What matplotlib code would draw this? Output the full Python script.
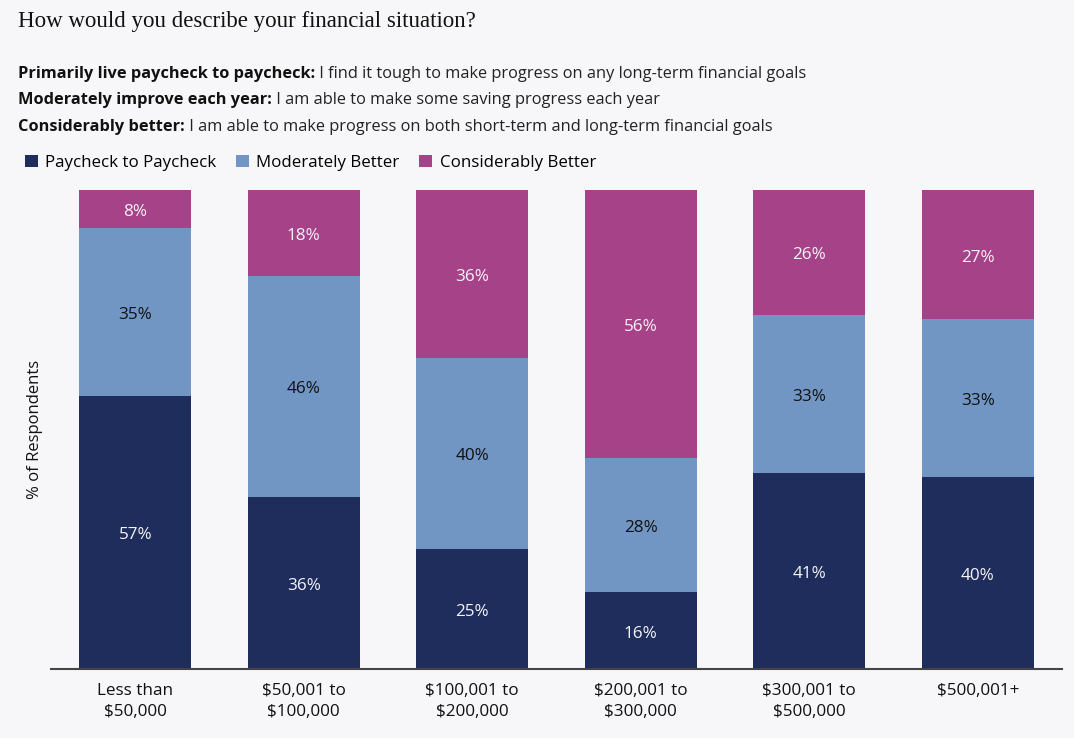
import numpy as np
import matplotlib.pyplot as plt
from matplotlib.patches import Patch

categories = ["Less than\n$50,000", "$50,001 to\n$100,000", "$100,001 to\n$200,000",
              "$200,001 to\n$300,000", "$300,001 to\n$500,000", "$500,001+"]
paycheck = [57, 36, 25, 16, 41, 40]
moderately = [35, 46, 40, 28, 33, 33]
considerably = [8, 18, 36, 56, 26, 27]

series_names = ["Paycheck to Paycheck", "Moderately Better", "Considerably Better"]
colors = ["#1f2d5c", "#7196c4", "#a64287"]
label_colors = ["#f4f4f8", "#111111", "#f4f4f8"]
bg = "#f7f7f9"

plt.rcParams["font.family"] = ["Open Sans", "DejaVu Sans"]

fig = plt.figure(figsize=(10.74, 7.38), dpi=100, facecolor=bg)
ax = fig.add_axes([0.0475, 0.0935, 0.9413, 0.649])
ax.set_facecolor(bg)

x = np.arange(len(categories))
bottom = np.zeros(len(categories))
for vals, name, col, tcol in zip([paycheck, moderately, considerably], series_names, colors, label_colors):
    vals = np.array(vals, dtype=float)
    ax.bar(x, vals, bottom=bottom, width=0.664, color=col, label=name, zorder=2)
    for xi, b, v in zip(x, bottom, vals):
        top = min(b + v, 100)
        ax.annotate(f"{int(v)}%", (xi, (b + top) / 2), xytext=(0, -3),
                    textcoords="offset pixels", ha="center", va="center",
                    color=tcol, fontsize=12.3)
    bottom += vals

ax.set_xlim(-0.5, 5.5)
ax.set_ylim(0, 100)
ax.set_xticks(x)
ax.set_xticklabels(categories, fontsize=12.3, color="#111111", linespacing=1.4)
ax.set_yticks([])
ax.tick_params(axis="x", length=0, pad=10)
for s in ["top", "right", "left"]:
    ax.spines[s].set_visible(False)
ax.spines["bottom"].set_color("#444444")
ax.spines["bottom"].set_linewidth(1.5)
ax.spines["bottom"].set_zorder(3)
ax.set_ylabel("% of Respondents", fontsize=12, color="#111111", labelpad=6)

# titulo y descripciones
fig.text(0.017, 1 - 22 / 738, "How would you describe your financial situation?",
         fontsize=16.5, family="Liberation Serif", color="#111111", va="center")

desc = [("Primarily live paycheck to paycheck:", " I find it tough to make progress on any long-term financial goals"),
        ("Moderately improve each year:", " I am able to make some saving progress each year"),
        ("Considerably better:", " I am able to make progress on both short-term and long-term financial goals")]
ys = [74, 100, 127]
renderer = fig.canvas.get_renderer()
for (bold, rest), yp in zip(desc, ys):
    t = fig.text(18 / 1074, 1 - yp / 738, bold, fontsize=11.8, fontweight="bold",
                 color="#111111", va="center")
    bb = t.get_window_extent(renderer=renderer)
    fig.text(bb.x1 / 1074, 1 - yp / 738, rest, fontsize=11.8, color="#222222", va="center")

handles = [Patch(facecolor=c, label=n) for c, n in zip(colors, series_names)]
fig.legend(handles=handles, loc="center left", bbox_to_anchor=(0.017, 1 - 163 / 738),
           ncol=3, frameon=False, fontsize=12.2, handlelength=0.75, handleheight=0.75,
           handletextpad=0.45, columnspacing=1.15, borderaxespad=0)

fig.savefig("out.png", dpi=100, facecolor=bg)
